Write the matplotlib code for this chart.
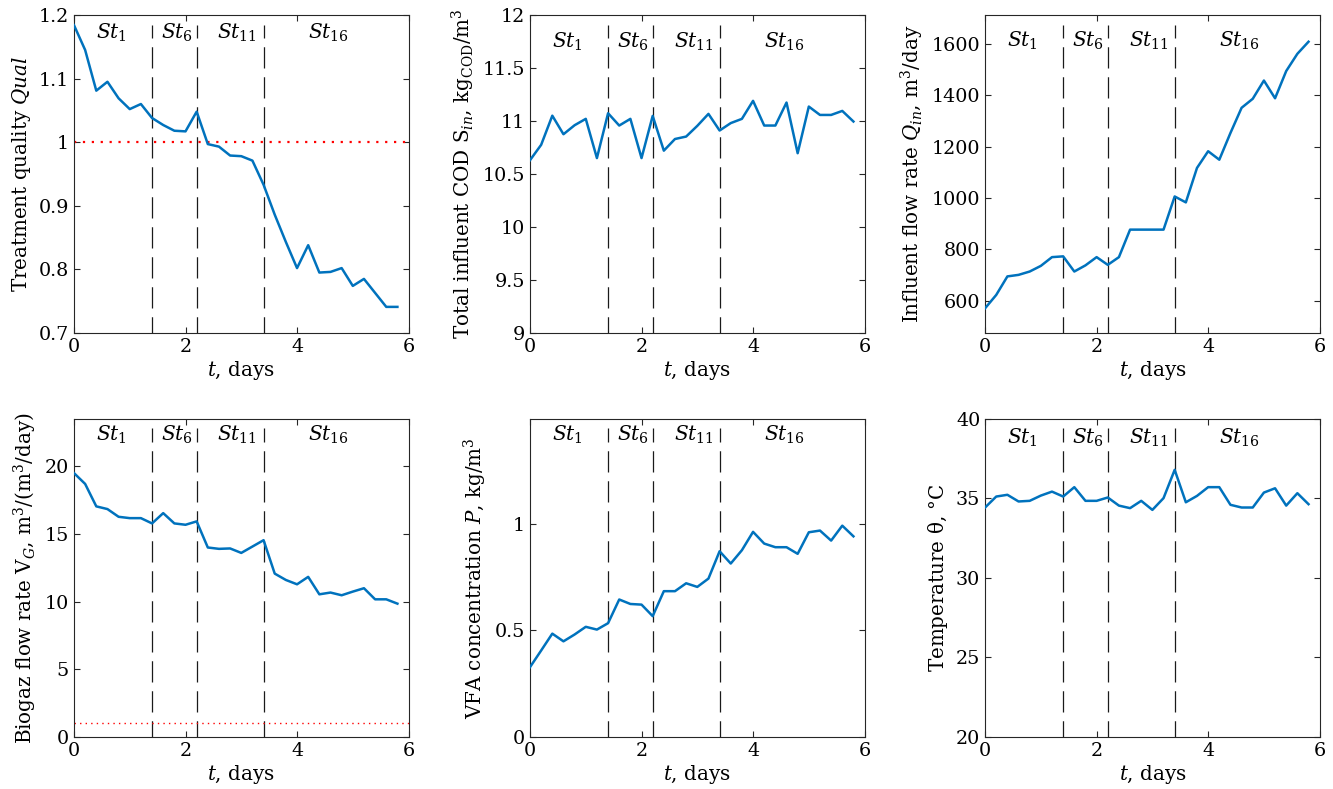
import numpy as np
import matplotlib
matplotlib.use("Agg")
import matplotlib.pyplot as plt
from matplotlib.ticker import FormatStrFormatter

plt.rcParams["font.family"] = "DejaVu Serif"
plt.rcParams["mathtext.fontset"] = "dejavuserif"
plt.rcParams["font.size"] = 14.3

# time axis, days
t = np.arange(30) * 0.2

# stage switching moments and labels
stage_t = [1.4, 2.2, 3.4]
stage_lbl = ["$St_1$", "$St_6$", "$St_{11}$", "$St_{16}$"]
stage_pos = [0.67, 1.84, 2.93, 4.56]

qual = [1.184, 1.145, 1.081, 1.095, 1.069, 1.052, 1.060, 1.038, 1.027, 1.018,
        1.017, 1.048, 0.997, 0.993, 0.979, 0.978, 0.971, 0.933, 0.886, 0.843,
        0.802, 0.838, 0.795, 0.796, 0.802, 0.774, 0.785, 0.763, 0.741, 0.741]
cod = [10.63, 10.775, 11.05, 10.875, 10.96, 11.02, 10.65, 11.073, 10.957, 11.02,
       10.65, 11.048, 10.72, 10.83, 10.853, 10.954, 11.067, 10.91, 10.98, 11.02,
       11.19, 10.957, 10.957, 11.174, 10.696, 11.136, 11.057, 11.057, 11.095, 10.995]
qin = [571, 623, 695, 701, 714, 736, 770, 773, 714, 738,
       770, 740, 770, 877, 877, 877, 877, 1006, 983, 1117,
       1182, 1149, 1253, 1351, 1386, 1457, 1388, 1494, 1561, 1608]
vg = [19.5, 18.7, 17.04, 16.84, 16.27, 16.17, 16.17, 15.78, 16.54, 15.78,
      15.68, 15.93, 14.0, 13.9, 13.93, 13.6, 14.07, 14.54, 12.07, 11.6,
      11.28, 11.83, 10.54, 10.67, 10.47, 10.74, 10.99, 10.17, 10.17, 9.85]
vfa = [0.327, 0.405, 0.484, 0.448, 0.48, 0.516, 0.503, 0.533, 0.644, 0.623,
       0.62, 0.566, 0.683, 0.683, 0.72, 0.703, 0.742, 0.87, 0.8125, 0.875,
       0.961, 0.906, 0.889, 0.889, 0.858, 0.959, 0.967, 0.92, 0.99, 0.94]
temp = [34.43, 35.12, 35.23, 34.81, 34.85, 35.18, 35.43, 35.12, 35.71, 34.85,
        34.85, 35.06, 34.55, 34.39, 34.85, 34.28, 35.02, 36.8, 34.76, 35.16,
        35.71, 35.71, 34.6, 34.43, 34.43, 35.37, 35.64, 34.55, 35.33, 34.64]

panels = [
    dict(y=qual, ylabel="Treatment quality $Qual$", ylim=(0.7, 1.2),
         yticks=np.arange(0.7, 1.21, 0.1), ref=1.0, lw_ref=1.6, txt=0.945),
    dict(y=cod, ylabel=r"Total influent COD $\mathrm{S}_{in}$, kg$_\mathrm{COD}$/m$^3$",
         ylim=(9, 12), yticks=np.arange(9, 12.01, 0.5), ref=None, txt=0.915),
    dict(y=qin, ylabel="Influent flow rate $Q_{in}$, m$^3$/day", ylim=(475, 1712),
         yticks=np.arange(600, 1601, 200), ref=None, txt=0.92),
    dict(y=vg, ylabel=r"Biogaz flow rate $\mathrm{V}_G$, m$^3$/(m$^3$/day)",
         ylim=(0, 23.5), yticks=np.arange(0, 21, 5), ref=1.0, lw_ref=1.0, txt=0.95),
    dict(y=vfa, ylabel="VFA concentration $P$, kg/m$^3$", ylim=(0, 1.49),
         yticks=[0, 0.5, 1], ref=None, txt=0.95),
    dict(y=temp, ylabel=r"Temperature $\mathrm{\theta}$, °C", ylim=(20, 40),
         yticks=np.arange(20, 41, 5), ref=None, txt=0.94),
]

lefts = [0.0555, 0.3976, 0.739]
bottoms = [0.578, 0.066]
w, h = 0.251, 0.403

fig = plt.figure(figsize=(13.33, 7.89), dpi=100)
for i, p in enumerate(panels):
    ax = fig.add_axes([lefts[i % 3], bottoms[i // 3], w, h])
    ax.plot(t, p["y"], color="#0072BD", lw=1.8, zorder=3)
    if p["ref"] is not None:
        ax.axhline(p["ref"], color="red", ls=(0, (1, 3)), lw=p["lw_ref"], zorder=2)
    for s in stage_t:
        ax.axvline(s, color="#1a1a1a", lw=0.9, ls=(4, (17, 7)), ymax=0.97, zorder=1)
    for x, lbl in zip(stage_pos, stage_lbl):
        ax.text(x, p["txt"], lbl, transform=ax.get_xaxis_transform(),
                ha="center", va="center", fontsize=14.5)
    ax.set_xlim(0, 6)
    ax.set_xticks([0, 2, 4, 6])
    ax.set_ylim(*p["ylim"])
    ax.set_yticks(p["yticks"])
    ax.yaxis.set_major_formatter(FormatStrFormatter("%g"))
    ax.set_xlabel("$t$, days", labelpad=2)
    ax.set_ylabel(p["ylabel"], labelpad=4)
    ax.tick_params(direction="in", top=True, right=True, length=4,
                   color="#262626", labelsize=13.8)
    for sp in ax.spines.values():
        sp.set_color("#262626")
        sp.set_linewidth(0.8)

fig.savefig("out.png", dpi=100)
